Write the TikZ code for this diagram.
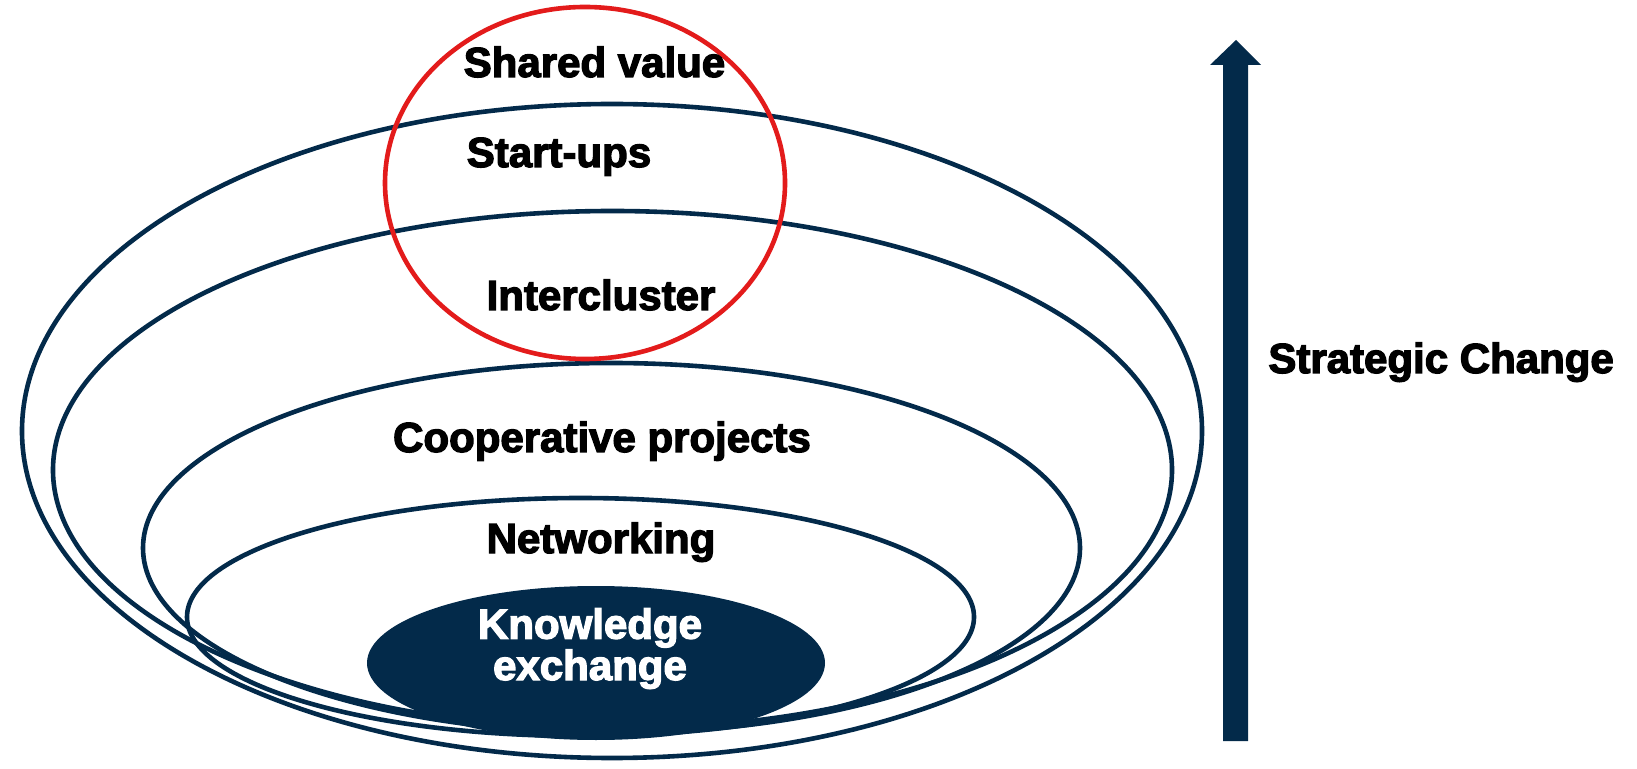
\documentclass[tikz,border=0pt]{standalone}
\usepackage{fontspec}
\setmainfont{Liberation Sans}
\newfontfamily\heavyfont[FakeBold=3]{Liberation Sans Bold}
\definecolor{navy}{HTML}{032A4A}
\definecolor{ringred}{HTML}{E31B1B}
\begin{document}
\begin{tikzpicture}[x=0.5pt, y=-0.5pt,
  ring/.style={draw=navy, line width=2.3pt},
  redring/.style={draw=ringred, line width=2.3pt},
  lbl/.style={font=\fontsize{21}{19}\selectfont\heavyfont, text=black, inner sep=0pt, anchor=base},
  wlbl/.style={lbl, text=white, align=center}]
\useasboundingbox[fill=white] (0,0) rectangle (1637,769);
% ellipses
\draw[ring] (612,431) ellipse [x radius=295pt, y radius=163.5pt];
\draw[ring] (612.5,470) ellipse [x radius=279.75pt, y radius=129.5pt];
\draw[ring] (611.5,548) ellipse [x radius=234.25pt, y radius=92.5pt];
\draw[ring] (580.5,617) ellipse [x radius=196.75pt, y radius=59.5pt];
\fill[navy] (596,663) ellipse [x radius=114.5pt, y radius=38.5pt];
\draw[redring] (585,183) ellipse [x radius=100pt, y radius=88pt];
% arrow
\fill[navy] (1223,741) -- (1223,65) -- (1210,65) -- (1236,40) -- (1261,65) -- (1248,65) -- (1248,741) -- cycle;
% labels
\node[lbl] (shared) at (594.5,77) {Shared value};
\node[lbl] (startups) at (559,167) {Start-ups};
\node[lbl] (inter) at (601,310) {Intercluster};
\node[lbl] (coop) at (602,452) {Cooperative projects};
\node[lbl] (net) at (601,553) {Networking};
\node[wlbl] (know) at (590,680) {Knowledge\\exchange};
\node[lbl, anchor=base west] (strat) at (1268,373) {Strategic Change};
\end{tikzpicture}
\end{document}
